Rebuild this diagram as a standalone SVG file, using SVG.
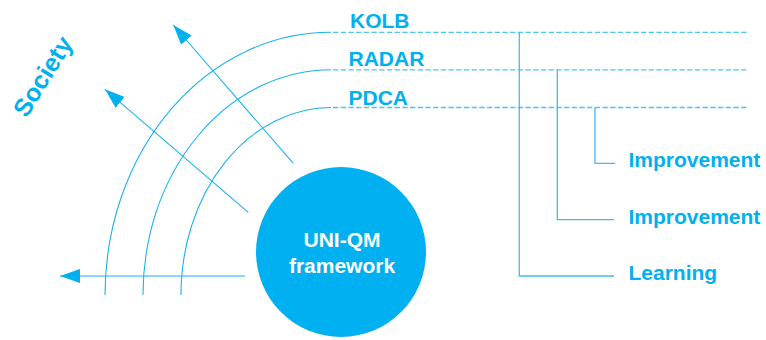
<svg xmlns="http://www.w3.org/2000/svg" width="766" height="340" viewBox="0 0 766 340">
<defs>
<style>
.t{font-family:"Liberation Sans",Arial,sans-serif;font-weight:bold;font-size:21px;fill:#00b0f0}
.w{font-family:"Liberation Sans",Arial,sans-serif;font-weight:bold;font-size:21px;fill:#ffffff}
.ln{fill:none;stroke:#1ab3ee;stroke-width:1.1}
.br{fill:none;stroke:#3cbff0;stroke-width:1.3}
.ds{fill:none;stroke:#4ec4f0;stroke-width:1.3;stroke-dasharray:5.3 2.4}
</style>
<marker id="ah" viewBox="0 0 20 14" refX="20" refY="7" markerWidth="20" markerHeight="14" markerUnits="userSpaceOnUse" orient="auto">
<path d="M0,0 L20,7 L0,14 Z" fill="#00b0f0"/>
</marker>
</defs>
<rect width="766" height="340" fill="#ffffff"/>
<g id="connectors">
<path class="ln" d="M105,295 A225,263 0 0 1 331,32.3"/>
<path class="ln" d="M143,295 A188,225 0 0 1 331,69.8"/>
<path class="ln" d="M181,295 A150,187.5 0 0 1 331,107.5"/>
<path class="ds" d="M333,32.3 H747"/>
<path class="ds" d="M333,69.8 H747"/>
<path class="ds" d="M333,107.5 H747"/>
<path class="br" d="M519.3,32.3 V276 H614"/>
<path class="br" d="M557.3,69.8 V219.7 H614"/>
<path class="br" d="M595,107.5 V163.3 H615"/>
<line class="ln" x1="245" y1="276" x2="60" y2="276" marker-end="url(#ah)"/>
<line class="ln" x1="293.3" y1="163.3" x2="173.3" y2="25" marker-end="url(#ah)"/>
<line class="ln" x1="248.3" y1="212.3" x2="105" y2="89.3" marker-end="url(#ah)"/>
</g>
<g id="framework">
<circle cx="341" cy="252" r="85" fill="#00b0f0"/>
<text class="w" x="342" y="247.3" text-anchor="middle">UNI-QM</text>
<text class="w" x="342" y="272.7" text-anchor="middle">framework</text>
</g>
<g id="society">
<text class="t" style="font-size:25px" transform="translate(50,81) rotate(-58)" text-anchor="middle">Society</text>
</g>
<g id="kolb"><text class="t" x="350" y="27.7">KOLB</text></g>
<g id="radar"><text class="t" x="348.5" y="66">RADAR</text></g>
<g id="pdca"><text class="t" x="348.5" y="105">PDCA</text></g>
<g id="improvement1"><text class="t" x="628.5" y="166.7">Improvement</text></g>
<g id="improvement2"><text class="t" x="628.5" y="224">Improvement</text></g>
<g id="learning"><text class="t" x="628.5" y="280">Learning</text></g>
</svg>
